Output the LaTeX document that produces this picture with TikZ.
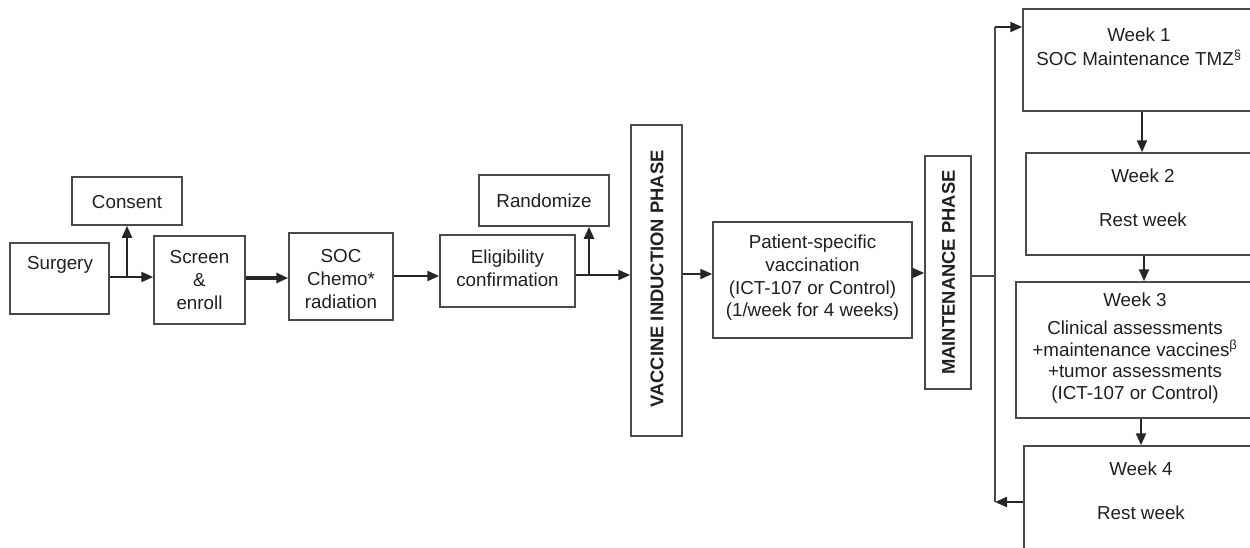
\documentclass[tikz,border=0pt]{standalone}
\usepackage{fontspec}
\setmainfont{Liberation Sans}
\usetikzlibrary{arrows.meta}
\definecolor{boxline}{HTML}{4A4A4A}
\definecolor{ink}{HTML}{202020}
\definecolor{conncol}{HTML}{262626}
\begin{document}
\begin{tikzpicture}[x=1pt,y=-1pt,
  box/.style={draw=boxline,line width=1.5pt,rectangle,inner sep=0pt},
  txt/.style={text=ink,align=center,inner sep=0pt,font=\fontsize{18.8}{22.7}\selectfont},
  vtxt/.style={text=ink,inner sep=0pt,rotate=90,font=\fontsize{18.4}{22.7}\selectfont\bfseries},
  conn/.style={draw=conncol,line width=2.2pt,-{Triangle[length=12pt,width=10pt]}},
  plain/.style={draw=boxline,line width=1.5pt}]
\useasboundingbox (0,0) rectangle (1250,547);
% boxes
\node[box,minimum width=99pt,minimum height=71pt] (surgery) at (59.5,278.5) {};
\node[txt] (surgeryt) at (60,265) {Surgery};
\node[box,minimum width=110pt,minimum height=48pt] (consent) at (127,201) {};
\node[txt] (consentt) at (127,202) {Consent};
\node[box,minimum width=91pt,minimum height=88pt] (screen) at (199.5,280) {};
\node[txt] (screent) at (199.5,280) {Screen\\\&\\enroll};
\node[box,minimum width=104pt,minimum height=87pt] (soc) at (341,276.5) {};
\node[txt] (soct) at (341,279) {SOC\\Chemo*\\radiation};
\node[box,minimum width=135pt,minimum height=72pt] (elig) at (507.5,271) {};
\node[txt] (eligt) at (507.5,268) {Eligibility\\confirmation};
\node[box,minimum width=130pt,minimum height=51pt] (randomize) at (544,200.5) {};
\node[txt] (randomizet) at (544,200.5) {Randomize};
\node[box,minimum width=51pt,minimum height=311pt] (vacc) at (656.5,280.5) {};
\node[vtxt] (vacct) at (657,279) {VACCINE INDUCTION PHASE};
\node[box,minimum width=199pt,minimum height=116pt] (patient) at (812.5,280) {};
\node[txt] (patientt) at (812.5,278) {Patient-specific\\vaccination\\(ICT-107 or Control)\\(1/week for 4 weeks)};
\node[box,minimum width=46pt,minimum height=233pt] (maint) at (948,272.5) {};
\node[vtxt] (maintt) at (948.5,272.5) {MAINTENANCE PHASE};
% week boxes (cut by the right edge)
\node[box,minimum width=239pt,minimum height=102pt] (w1) at (1142.5,60) {};
\node[txt,font=\fontsize{18.8}{24}\selectfont] (w1t) at (1139,47) {Week 1\\SOC Maintenance TMZ\textsuperscript{§}};
\node[box,minimum width=236pt,minimum height=102pt] (w2) at (1144,204) {};
\node[txt] (w2a) at (1143,176) {Week 2};
\node[txt] (w2b) at (1143,220) {Rest week};
\node[box,minimum width=246pt,minimum height=136pt] (w3) at (1139,350) {};
\node[txt] (w3a) at (1135,300) {Week 3};
\node[txt,font=\fontsize{18.8}{21.5}\selectfont] (w3b) at (1135,362) {Clinical assessments\\+maintenance vaccines\textsuperscript{β}\\+tumor assessments\\(ICT-107 or Control)};
\node[box,minimum width=238pt,minimum height=124pt] (w4) at (1143,508) {};
\node[txt] (w4a) at (1141,469) {Week 4};
\node[txt] (w4b) at (1141,513) {Rest week};
% junctions
\coordinate (j1) at (127,277);
\coordinate (c2) at (0,278);
\coordinate (c3) at (0,276);
\coordinate (j2) at (589,275);
\coordinate (c4) at (0,274);
\coordinate (c5) at (0,273);
\coordinate (j3) at (995,276);
\coordinate (top) at (995,27);
\coordinate (bot) at (995,502);
\coordinate (k1) at (1142,0);
\coordinate (k2) at (1144,0);
\coordinate (k3) at (1141,0);
% connectors
\draw[conn] (surgery.east |- j1) -- (screen.west |- j1);
\draw[conn] (j1) -- (consent.south);
\draw[conn,line width=3.2pt] (screen.east |- c2) -- (soc.west |- c2);
\draw[conn] (soc.east |- c3) -- (elig.west |- c3);
\draw[conn] (elig.east |- j2) -- (vacc.west |- j2);
\draw[conn] (j2) -- (j2 |- randomize.south);
\draw[conn] (vacc.east |- c4) -- (patient.west |- c4);
\draw[conn] (patient.east |- c5) -- (maint.west |- c5);
\draw[plain] (maint.east |- j3) -- (j3);
\draw[plain] (top) -- (bot);
\draw[conn] (top) -- (w1.west |- top);
\draw[conn] (w4.west |- bot) -- (bot);
\draw[conn] (w1.south -| k1) -- (w2.north -| k1);
\draw[conn] (w2.south -| k2) -- (w3.north -| k2);
\draw[conn] (w3.south -| k3) -- (w4.north -| k3);
\end{tikzpicture}
\end{document}
